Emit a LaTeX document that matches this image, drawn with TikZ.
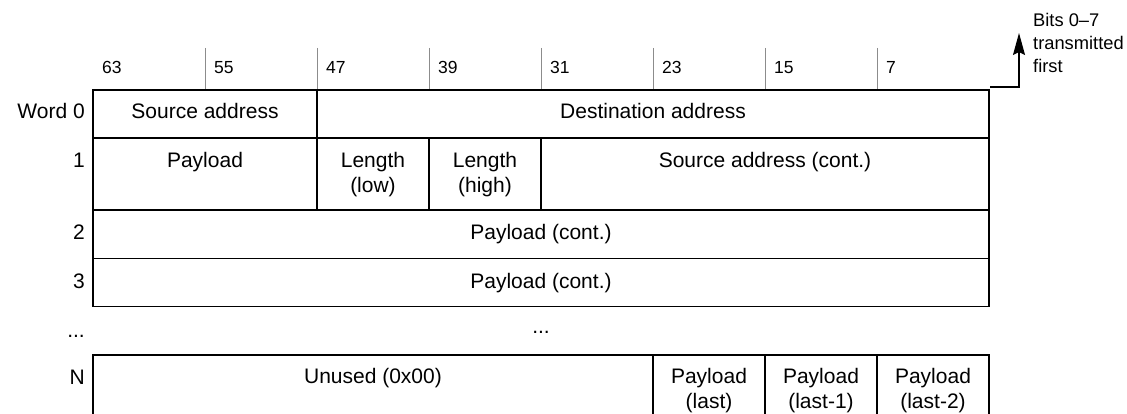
\documentclass[tikz,border=0pt]{standalone}
\usepackage{fontspec}
\setmainfont{Liberation Sans}
\usetikzlibrary{arrows.meta}
\begin{document}
\begin{tikzpicture}[x=1pt,y=-1pt,
  cell/.style={draw=black,line width=1.2pt},
  tick/.style={draw=black!45,line width=0.8pt},
  txt/.style={inner sep=0pt,anchor=base,align=center,font=\fontsize{21}{25}\selectfont},
  rowlab/.style={inner sep=0pt,anchor=base east,font=\fontsize{21}{25}\selectfont},
  bitlab/.style={inner sep=0pt,anchor=base west,font=\fontsize{17.5}{21}\selectfont},
  side/.style={inner sep=0pt,anchor=base west,align=left,font=\fontsize{18.3}{23}\selectfont},
  tip/.style={line width=1.2pt,-{Stealth[length=22pt,width=12pt,inset=3pt]}}]
\useasboundingbox (0,0) rectangle (1127,414);
% bit ticks
\foreach \x in {205,317,429,541,653,765,877}{\draw[tick] (\x,48) -- (\x,90);}
\node[bitlab] (b63) at (102,74) {63};
\node[bitlab] (b55) at (214,74) {55};
\node[bitlab] (b47) at (326,74) {47};
\node[bitlab] (b39) at (438,74) {39};
\node[bitlab] (b31) at (550,74) {31};
\node[bitlab] (b23) at (662,74) {23};
\node[bitlab] (b15) at (774,74) {15};
\node[bitlab] (b7)  at (886,74) {7};
% rows
\draw[cell] (93,90) rectangle (989,138);
\draw[cell] (317,90) -- (317,138);
\draw[cell] (93,138) rectangle (989,210);
\foreach \x in {317,429,541}{\draw[cell] (\x,138) -- (\x,210);}
\draw[cell] (93,210) rectangle (989,258.5);
\draw[cell] (93,258.5) rectangle (989,306.5);
\draw[cell] (93,355) rectangle (989,418);
\foreach \x in {653,765,877}{\draw[cell] (\x,355) -- (\x,418);}
% cell texts
\node[txt] (src) at (205,119) {Source address};
\node[txt] (dst) at (653,119) {Destination address};
\node[txt] (pl) at (205,168) {Payload};
\node[txt] (lenlo) at (373,193) {Length\\(low)};
\node[txt] (lenhi) at (485,193) {Length\\(high)};
\node[txt] (srcc) at (765,168) {Source address (cont.)};
\node[txt] (pc2) at (541,240) {Payload (cont.)};
\node[txt] (pc3) at (541,288) {Payload (cont.)};
\node[txt] (dots) at (541,333) {...};
\node[txt] (unused) at (373,383) {Unused (0x00)};
\node[txt] (plast) at (709,408) {Payload\\(last)};
\node[txt] (plast1) at (821,408) {Payload\\(last-1)};
\node[txt] (plast2) at (933,408) {Payload\\(last-2)};
% row labels
\node[rowlab] (w0) at (85,119) {Word 0};
\node[rowlab] (w1) at (85,168) {1};
\node[rowlab] (w2) at (85,240) {2};
\node[rowlab] (w3) at (85,288) {3};
\node[rowlab] (wd) at (85,337) {...};
\node[rowlab] (wn) at (85,384) {N};
% side note and arrow
\node[side] (note) at (1033,73) {Bits 0--7\\transmitted\\first};
\coordinate (astart) at (990,87);
\coordinate (atip) at (1019,33);
\draw[tip] (astart) -| (atip);
\end{tikzpicture}
\end{document}
